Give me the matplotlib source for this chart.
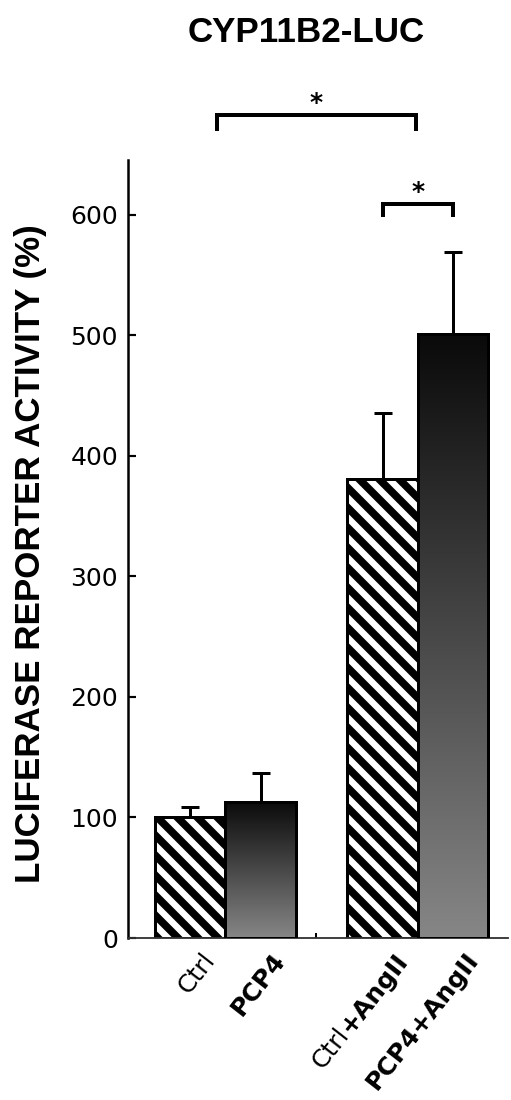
import numpy as np
import matplotlib
matplotlib.use('Agg')
import matplotlib.pyplot as plt
from matplotlib.colors import LinearSegmentedColormap
import matplotlib.transforms as mtransforms

# ---- data ----
categories = ['Ctrl', 'PCP4', 'Ctrl+AngII', 'PCP4+AngII']
label_parts = [[('Ctrl', 'normal')],
               [('PCP4', 'bold')],
               [('Ctrl', 'normal'), ('+AngII', 'bold')],
               [('PCP4+AngII', 'bold')]]
means = [100, 113, 381, 501]
err_upper = [8.5, 24, 54.5, 68]
hatched = [True, False, True, False]
yticks = [0, 100, 200, 300, 400, 500, 600]
title = 'CYP11B2-LUC'
ylabel = 'LUCIFERASE REPORTER ACTIVITY (%)'
sig_marks = ['*', '*']

DPI = 120
plt.rcParams['font.family'] = ['DejaVu Sans']
plt.rcParams['hatch.linewidth'] = 4.6
plt.rcParams['hatch.color'] = 'black'

fig = plt.figure(figsize=(511 / DPI, 1100 / DPI), dpi=DPI)
ax = fig.add_axes([128 / 511, 1 - 938 / 1100, 380 / 511, 778 / 1100])

x = np.array([0.88, 1.88, 3.61, 4.61])
width = 1.0

cmap = LinearSegmentedColormap.from_list('g', ['#868686', '#0a0a0a'])
grad = np.linspace(1, 0, 256).reshape(-1, 1)

for i in range(len(categories)):
    if hatched[i]:
        ax.bar(x[i], means[i], width=width, facecolor='white', edgecolor='black',
               hatch='\\\\', linewidth=1.8, zorder=2)
    else:
        b = ax.bar(x[i], means[i], width=width, facecolor='none', edgecolor='black',
                   linewidth=1.8, zorder=3)
        im = ax.imshow(grad, extent=(x[i] - width / 2, x[i] + width / 2, 0, means[i]),
                       cmap=cmap, vmin=0, vmax=1, aspect='auto', zorder=2,
                       interpolation='bilinear')
        im.set_clip_path(b[0])

ax.errorbar(x, means, yerr=[np.zeros(len(means)), err_upper], fmt='none',
            ecolor='black', elinewidth=1.8, capsize=5.4, capthick=1.8, zorder=4)

ax.set_xlim(0, 380 / 70.5)
ax.set_ylim(0, 645.6)
ax.set_aspect('auto')

for s in ['top', 'right']:
    ax.spines[s].set_visible(False)
ax.spines['left'].set_linewidth(1.5)
ax.spines['bottom'].set_linewidth(1.1)
ax.spines['bottom'].set_color('#333333')

ax.set_yticks(yticks)
ax.set_yticklabels([str(v) for v in yticks])
ax.tick_params(axis='y', direction='in', length=4.8, width=1.3, labelsize=15, pad=6)
ax.set_xticks([])
ax.set_xticks([(x[1] + x[2]) / 2 - 0.08], minor=True)
ax.tick_params(axis='x', which='minor', direction='in', length=3, width=1.2)

# significance brackets
def bracket(x1, x2, ytop, yleg, star, ystar, xstar):
    ax.plot([x1, x1, x2, x2], [yleg, ytop, ytop, yleg], color='black', lw=2.4,
            clip_on=False, solid_joinstyle='miter', solid_capstyle='butt')
    ax.text(xstar, ystar, star, ha='center', va='center', fontsize=15,
            fontweight='bold', clip_on=False)

bracket(1.262, 4.085, 683, 670, sig_marks[0], 693, 2.67)
bracket(x[2], x[3], 609, 598, sig_marks[1], 619, 4.11)

# titles
fig.text(306 / 511, 1 - 32 / 1100, title, ha='center', va='center', fontsize=21,
         fontweight='bold', family='Liberation Sans')
fig.text(31 / 511, 1 - 554 / 1100, ylabel, rotation=90, ha='center', va='center',
         fontsize=21, fontweight='bold', family='Liberation Sans')

# rotated x labels with mixed weights
renderer = fig.canvas.get_renderer()
theta = 52
c, s_ = np.cos(np.radians(theta)), np.sin(np.radians(theta))
dx_px, dy_px = 26, -22
for i, parts in enumerate(label_parts):
    w_after = 0.0
    for txt, wt in reversed(parts):
        tmp = fig.text(0, 0, txt, fontsize=15, fontweight=wt)
        w = tmp.get_window_extent(renderer).width
        tmp.remove()
        tr = mtransforms.offset_copy(ax.get_xaxis_transform(), fig=fig,
                                     x=dx_px - w_after * c, y=dy_px - w_after * s_,
                                     units='dots')
        ax.text(x[i], 0, txt, transform=tr, rotation=theta, rotation_mode='anchor',
                ha='right', va='baseline', fontsize=15, fontweight=wt, clip_on=False)
        w_after += w

fig.savefig('out.png', dpi=DPI)
